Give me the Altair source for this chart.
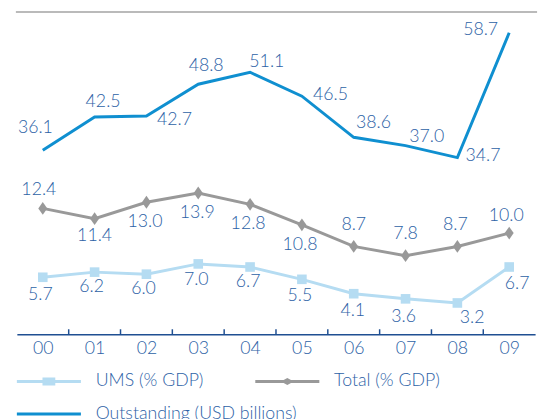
import altair as alt
import pandas as pd

# ---- data ----
years = ["00", "01", "02", "03", "04", "05", "06", "07", "08", "09"]
ums = [5.7, 6.2, 6.0, 7.0, 6.7, 5.5, 4.1, 3.6, 3.2, 6.7]
total = [12.4, 11.4, 13.0, 13.9, 12.8, 10.8, 8.7, 7.8, 8.7, 10.0]
outstanding = [36.1, 42.5, 42.7, 48.8, 51.1, 46.5, 38.6, 37.0, 34.7, 58.7]
series_names = ["UMS (% GDP)", "Outstanding (USD billions)", "Total (% GDP)"]

# ---- label placement (pixel offsets from each point) ----
ums_dx = [-2.5, -3, -3, -2, -2, -2, -1, -2, 15, 8]
ums_dy = [18, 15.5, 15.5, 16, 15.5, 17.5, 17.7, 18, 15, 17]
total_dx = [-4, 0, -1.5, -1, -2, -2, 0, 0, -2, -3]
total_dy = [-19, 18, 20, 20, 20, 20.5, -22, -22, -22, -17.5]
out_dx = [-7.5, 8.6, 28.5, 8, 17, 29, 20, 21.5, 26, -29]
out_dy = [-22.4, -15, 4.5, -18, -10, -1.5, -14, -9, -2, -3]

# ---- styles ----
C_UMS = "#b5dcf2"
C_TOTAL = "#999999"
C_OUT = "#0f8fd0"
C_TEXT = "#2d62a6"
C_AXIS = "#1f4f92"
FONT = "Lato"
FS = 18
W, H = 526, 316
STEP = W / len(years)
LEFT_DOM = [0.16, 30.46]
RIGHT_DOM = [0.76, 60.6]
TICK_LEN = 5


def frame(vals, dx, dy):
    return pd.DataFrame({"year": years, "value": vals, "dx": dx, "dy": dy})


df_ums = frame(ums, ums_dx, ums_dy)
df_tot = frame(total, total_dx, total_dy)
df_out = frame(outstanding, out_dx, out_dy)

x_enc = alt.X(
    "year:N",
    scale=alt.Scale(type="point", padding=0.5, domain=years),
    axis=alt.Axis(
        title=None, ticks=False, grid=False, labelAngle=0,
        domainColor=C_AXIS, domainWidth=1.5,
        labelFont=FONT, labelFontSize=FS, labelFontWeight=300, labelColor=C_TEXT,
        labelPadding=6, labelOverlap=False,
    ),
)


def y_scale(dom):
    return alt.Scale(domain=dom, nice=False, zero=False)


def text_layer(df, dom):
    per_px = (dom[1] - dom[0]) / H
    return alt.Chart(df).transform_calculate(
        ly=f"datum.value - datum.dy * {per_px}"
    ).mark_text(
        font=FONT, fontSize=FS, fontWeight=300, color=C_TEXT, align="center", baseline="middle"
    ).encode(
        x=x_enc,
        y=alt.Y("ly:Q", scale=y_scale(dom), axis=None),
        text=alt.Text("value:Q", format=".1f"),
        xOffset=alt.XOffset("dx:Q", scale=None),
    )


y_left = alt.Y("value:Q", scale=y_scale(LEFT_DOM), axis=None)
y_right = alt.Y("value:Q", scale=y_scale(RIGHT_DOM), axis=None)

line_ums = alt.Chart(df_ums).mark_line(color=C_UMS, strokeWidth=3).encode(x=x_enc, y=y_left)
pts_ums = alt.Chart(df_ums).mark_point(shape="square", filled=True, opacity=1, size=95, color=C_UMS).encode(x=x_enc, y=y_left)
line_tot = alt.Chart(df_tot).mark_line(color=C_TOTAL, strokeWidth=3).encode(x=x_enc, y=y_left)
pts_tot = alt.Chart(df_tot).mark_point(
    shape="M0,-1L0.7,0L0,1L-0.7,0Z", filled=True, opacity=1, size=169, color=C_TOTAL
).encode(x=x_enc, y=y_left)

left = alt.layer(line_ums, pts_ums, text_layer(df_ums, LEFT_DOM),
                 line_tot, pts_tot, text_layer(df_tot, LEFT_DOM))

line_out = alt.Chart(df_out).mark_line(color=C_OUT, strokeWidth=3).encode(x=x_enc, y=y_right)
right = alt.layer(line_out, text_layer(df_out, RIGHT_DOM))

# axis ticks between categories, pointing up from the axis line
ticks = alt.Chart(pd.DataFrame({"year": years[1:]})).mark_tick(
    color=C_AXIS, thickness=1.5, size=TICK_LEN, orient="vertical", xOffset=-STEP / 2, opacity=1
).encode(x=x_enc, y=alt.value(H - TICK_LEN / 2))

# legend symbols: line with marker
LINE = "M-3.25,-0.15L3.25,-0.15L3.25,0.15L-3.25,0.15Z"
sym_ums = LINE + "M-0.65,-0.4L0.65,-0.4L0.65,0.4L-0.65,0.4Z"
sym_tot = LINE + "M-0.65,0L0,-0.35L0.65,0L0,0.35Z"
sym_out = LINE

leg = alt.Legend(
    title=None, orient="none", legendX=22.5, legendY=354, columns=2, gridAlign="none",
    symbolSize=400, symbolStrokeWidth=0, labelFont=FONT, labelFontSize=FS, labelFontWeight=300,
    labelColor=C_TEXT, labelOffset=37.5, labelLimit=500, columnPadding=-43, rowPadding=14,
)
legend_layer = alt.Chart(pd.DataFrame({"series": series_names})).mark_point(
    filled=True, opacity=1
).encode(
    color=alt.Color("series:N", scale=alt.Scale(domain=series_names, range=[C_UMS, C_OUT, C_TOTAL]), legend=leg),
    shape=alt.Shape("series:N", scale=alt.Scale(domain=series_names, range=[sym_ums, sym_out, sym_tot]), legend=leg),
).transform_filter("false")

top_rule = alt.Chart(alt.Data(values=[{}])).mark_rule(color="#a3a3a3", strokeWidth=1.5).encode(
    x=alt.value(-1), x2=alt.value(528), y=alt.value(-11)
)

chart = alt.layer(left, right, ticks, legend_layer, top_rule).resolve_scale(y="independent").properties(
    width=W, height=H,
    autosize=alt.AutoSizeParams(type="none"),
    padding={"left": 9, "top": 12, "right": 7, "bottom": 83},
).configure_view(stroke=None)

chart.save("out.html", embed_options={"renderer": "svg", "actions": False})
